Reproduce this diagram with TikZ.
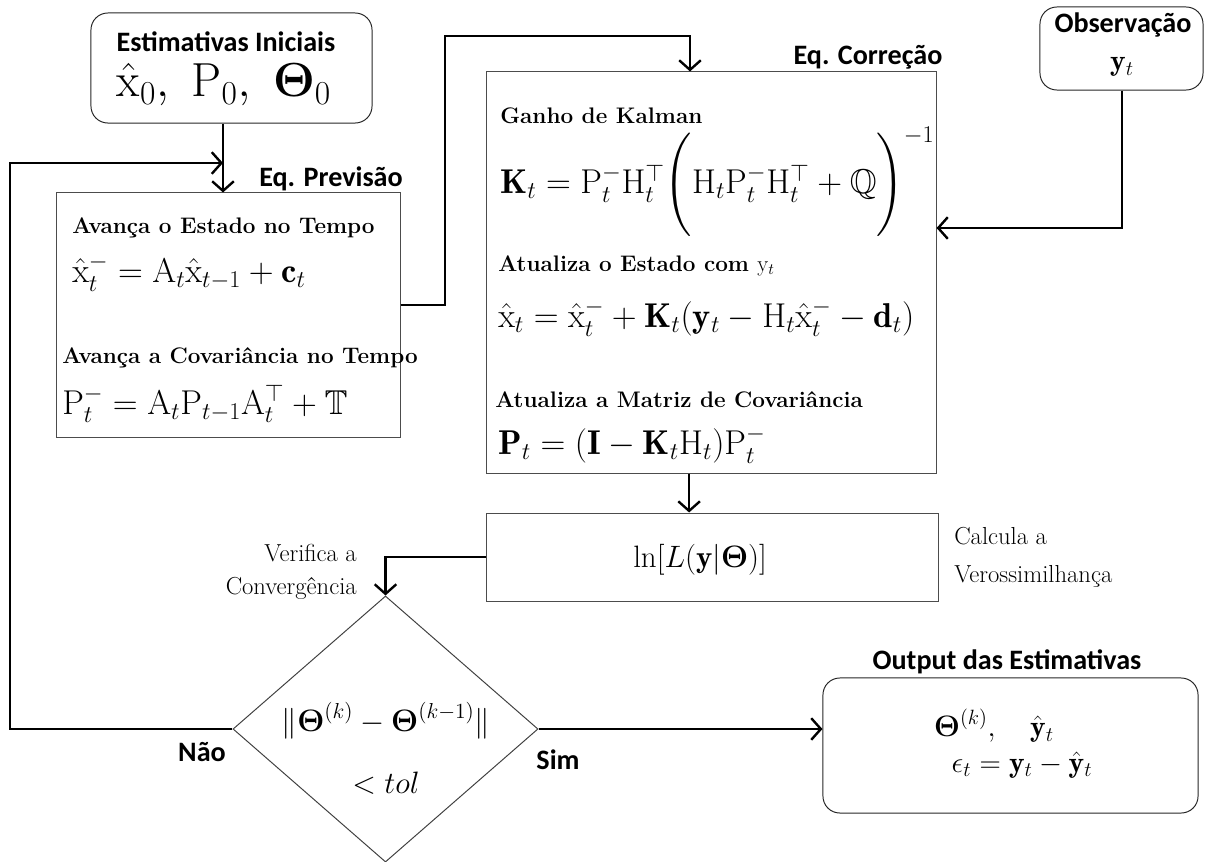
\documentclass[tikz,border=0pt]{standalone}
\usepackage{fix-cm}
\usepackage{amsmath,amssymb}
\usepackage{fontspec}
\newfontfamily\calibri{Carlito}
\usepackage{tikz}
\usetikzlibrary{arrows.meta,positioning,shapes.geometric}
\tikzset{
  box/.style={draw=black!70,line width=0.7pt,inner sep=0pt},
  rbox/.style={box,draw=black!85,rounded corners=12pt},
  dia/.style={box,diamond,draw=black!75,shape aspect=1.15},
  arr/.style={-{Straight Barb[length=2.4mm,width=5.4mm]},line width=1.7pt},
  head/.style={font=\calibri\bfseries\fontsize{20}{24}\selectfont,inner sep=0pt},
  lbl/.style={font=\bfseries\fontsize{16}{19}\selectfont,anchor=west,inner sep=0pt},
  eq/.style={font=\fontsize{24.5}{32}\selectfont,anchor=west,inner sep=0pt},
  mth/.style={font=\fontsize{21}{24}\selectfont,inner sep=0pt},
  side/.style={font=\fontsize{17.5}{27}\selectfont,inner sep=0pt},
}

\begin{document}
\begin{tikzpicture}[x=0.025cm,y=-0.025cm]
\useasboundingbox (0,0) rectangle (1205,862);
% initial estimates
\node[rbox,minimum width=7.025cm,minimum height=2.75cm] (init) at (231.5,68) {};
\node[head] (hinit) at (226,42) {Estimativas Iniciais};
\node[inner sep=0pt,font=\fontsize{34}{36}\selectfont] (x0) at (224,85) {$\hat{\mathrm{x}}_0,\ \mathrm{P}_0,\ \boldsymbol{\Theta}_0$};
% prediction
\node[box,minimum width=8.575cm,minimum height=6.1cm] (prev) at (228.5,315) {};
\node[head] (hprev) at (331,179) {Eq. Previsão};
\node[lbl] (tp1) at (72,228) {Avança o Estado no Tempo};
\node[eq] (ep1) at (72,273) {$\hat{\mathrm{x}}_t^- = \mathrm{A}_t\hat{\mathrm{x}}_{t-1} + \mathbf{c}_t$};
\node[lbl] (tp2) at (62,358) {Avança a Covariância no Tempo};
\node[eq] (ep2) at (62,404) {$\mathrm{P}_t^- = \mathrm{A}_t\mathrm{P}_{t-1}\mathrm{A}_t^\top + \mathbb{T}$};
% correction
\node[box,minimum width=11.225cm,minimum height=10.025cm] (corr) at (711.5,272.5) {};
\node[head] (hcorr) at (868,57) {Eq. Correção};
\node[lbl] (tc1) at (500,116) {Ganho de Kalman};
\node[eq] (ec1) at (500,182) {$\mathbf{K}_t = \mathrm{P}_t^-\mathrm{H}_t^\top\Bigg(\mathrm{H}_t\mathrm{P}_t^-\mathrm{H}_t^\top + \mathbb{Q}\Bigg)^{-1}$};
\node[lbl] (tc2) at (498,266) {Atualiza o Estado com $\mathrm{y}_t$};
\node[eq] (ec2) at (498,318) {$\hat{\mathrm{x}}_t = \hat{\mathrm{x}}_t^- + \mathbf{K}_t(\mathbf{y}_t - \mathrm{H}_t\hat{\mathrm{x}}_t^- - \mathbf{d}_t)$};
\node[lbl] (tc3) at (495,400) {Atualiza a Matriz de Covariância};
\node[eq] (ec3) at (498,445) {$\mathbf{P}_t = (\mathbf{I} - \mathbf{K}_t\mathrm{H}_t)\mathrm{P}_t^-$};
% observation
\node[rbox,minimum width=4.075cm,minimum height=2.075cm] (obs) at (1121.5,48.5) {};
\node[head] (hobs) at (1123,25) {Observação};
\node[mth] (yt) at (1122,67) {$\mathbf{y}_t$};
% likelihood
\node[box,minimum width=11.275cm,minimum height=2.2cm] (lik) at (712.5,557) {};
\node[inner sep=0pt,font=\fontsize{22}{26}\selectfont] (lnl) at (700,560) {$\ln[L(\mathbf{y}|\boldsymbol{\Theta})]$};
\node[side,anchor=west,align=left] (tlik) at (954,557) {Calcula a\\Verossimilhança};
% convergence test
\node[dia,minimum width=7.625cm,minimum height=6.65cm] (conv) at (385.5,729) {};
\node[inner sep=0pt,align=center,font=\fontsize{22}{44}\selectfont] (ctest) at (386,748) {$\|\boldsymbol{\Theta}^{(k)} - \boldsymbol{\Theta}^{(k-1)}\|$\\$<tol$};
\node[side,anchor=east,align=right,font=\fontsize{17.5}{23.5}\selectfont] (tconv) at (357,572) {Verifica a\\Convergência};
\node[head] (nao) at (202,752) {Não};
\node[head] (sim) at (558,760) {Sim};
% output
\node[rbox,minimum width=9.375cm,minimum height=3.375cm] (out) at (1010.5,745.5) {};
\node[head] (hout) at (1007,662) {Output das Estimativas};
\node[mth] (o1) at (994,726) {$\boldsymbol{\Theta}^{(k)},\quad\hat{\mathbf{y}}_t$};
\node[mth] (o2) at (1022,765) {$\epsilon_t = \mathbf{y}_t - \hat{\mathbf{y}}_t$};
% connectors
\coordinate (jn) at (223,163);
\coordinate (lp) at (10,163);
\coordinate (up) at (445,36);
\coordinate (dn) at (690,36);
\coordinate (ob) at (1122,228);
\draw[arr] (init.south -| jn) -- (jn |- prev.north);
\draw[arr] (conv.west) -| (lp) -- (jn);
\draw[arr] ([yshift=0.25cm]prev.east) -| (up) -- (dn) -- (dn |- corr.north);
\draw[arr] (obs.south -| ob) -- (ob) -- (ob -| corr.east);
\draw[arr] ([xshift=-5.6mm]corr.south) -- ([xshift=-5.6mm]corr.south |- lik.north);
\draw[arr] (lik.west) -| (conv.north);
\draw[arr] (conv.east) -- (conv.east -| out.west);
\end{tikzpicture}
\end{document}
